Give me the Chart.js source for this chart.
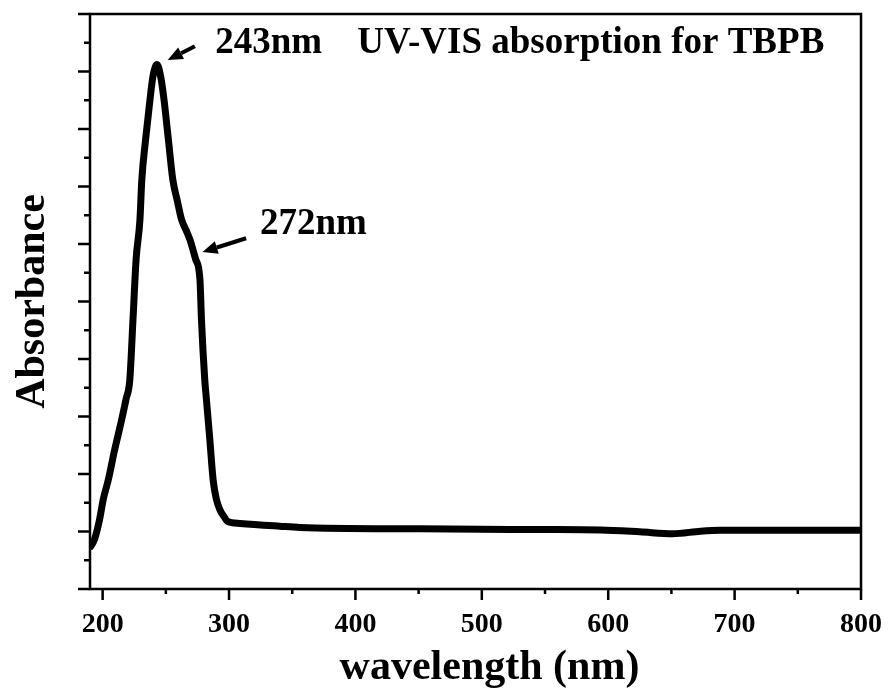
<!DOCTYPE html>
<html>
<head>
<meta charset="utf-8">
<title>UV-VIS absorption for TBPB</title>
<script src="https://cdn.jsdelivr.net/npm/chart.js@4/dist/chart.umd.min.js"></script>
<style>
  html, body { margin: 0; padding: 0; background: #fff; }
  canvas { display: block; }
</style>
</head>
<body>
<canvas id="uvvis-chart" width="888" height="700"></canvas>
<script>
// spectrum (wavelength in nm, absorbance in arbitrary units)
const wavelengths = [190.5, 193.5, 197.5, 200.5, 204.5, 209.5, 215, 218.5, 221.5, 224, 226.5, 229.5, 231, 234, 237.5, 240, 243,
  246, 248.5, 252, 255.5, 259, 262.5, 266, 269, 273.5, 277, 278.2, 280.8, 282.1, 284.8, 287.4, 290, 292.7, 296.6, 298.5,
  308.8, 340, 356, 451, 546, 594, 625, 651, 673, 689, 800];
const absorbance = [-0.13, -0.07, 0.10, 0.28, 0.45, 0.71, 0.97, 1.15, 1.32, 1.84, 2.37, 2.71, 3.06, 3.41, 3.76, 3.97, 4.06,
  3.95, 3.76, 3.41, 3.06, 2.88, 2.71, 2.62, 2.54, 2.37, 2.19, 1.84, 1.32, 1.15, 0.80, 0.45, 0.28, 0.19, 0.12, 0.09,
  0.07, 0.046, 0.035, 0.023, 0.017, 0.013, -0.003, -0.02, 0.003, 0.011, 0.011];

const xTickLabels = [200, 300, 400, 500, 600, 700, 800];
const xRange = [190, 800];
const yRange = [-0.5, 4.5];

// annotation text and arrows, in data units
const notes = [
  { text: '243nm', x: 289, y: 4.24 },
  { text: 'UV-VIS absorption for TBPB', x: 401.5, y: 4.24 },
  { text: '272nm', x: 324.5, y: 2.67 }
];
const arrows = [
  { from: [273, 4.22], to: [251.5, 4.10] },
  { from: [313.5, 2.55], to: [279, 2.43] }
];

const serif = "'Liberation Serif', 'Times New Roman', serif";

const framePlugin = {
  id: 'frame',
  afterDraw(chart) {
    const { ctx, chartArea: a, scales: { x, y } } = chart;
    ctx.save();
    ctx.strokeStyle = '#000';
    ctx.lineWidth = 2.5;
    ctx.strokeRect(a.left, a.top, a.right - a.left, a.bottom - a.top);

    // x ticks, major every 100 and minor in between
    ctx.beginPath();
    for (let i = 0; i < xTickLabels.length; i++) {
      const v = xTickLabels[i];
      const px = x.getPixelForValue(v);
      ctx.moveTo(px, a.bottom);
      ctx.lineTo(px, a.bottom + 11);
      if (i < xTickLabels.length - 1) {
        const m = x.getPixelForValue((v + xTickLabels[i + 1]) / 2);
        ctx.moveTo(m, a.bottom);
        ctx.lineTo(m, a.bottom + 5);
      }
    }
    // y ticks, major every 0.5, minor every 0.25
    for (let v = yRange[0]; v <= yRange[1] + 1e-9; v += 0.25) {
      const py = y.getPixelForValue(v);
      const major = Math.abs(v * 2 - Math.round(v * 2)) < 1e-6;
      ctx.moveTo(a.left, py);
      ctx.lineTo(a.left - (major ? 12 : 6), py);
    }
    ctx.stroke();

    ctx.fillStyle = '#000';
    // x axis title, sits a little right of the plot centre in the original
    ctx.font = 'bold 42px ' + serif;
    ctx.textAlign = 'center';
    ctx.textBaseline = 'middle';
    ctx.fillText('wavelength (nm)', (a.left + a.right) / 2 + 14, 668);

    // notes
    ctx.font = 'bold 37px ' + serif;
    ctx.textAlign = 'left';
    notes.forEach(n => ctx.fillText(n.text, x.getPixelForValue(n.x), y.getPixelForValue(n.y)));

    // arrows
    arrows.forEach(ar => {
      const x0 = x.getPixelForValue(ar.from[0]), y0 = y.getPixelForValue(ar.from[1]);
      const x1 = x.getPixelForValue(ar.to[0]), y1 = y.getPixelForValue(ar.to[1]);
      const ang = Math.atan2(y1 - y0, x1 - x0);
      const head = 15, half = 6.5;
      const bx = x1 - head * Math.cos(ang), by = y1 - head * Math.sin(ang);
      ctx.lineWidth = 4;
      ctx.beginPath();
      ctx.moveTo(x0, y0);
      ctx.lineTo(bx, by);
      ctx.stroke();
      ctx.beginPath();
      ctx.moveTo(x1, y1);
      ctx.lineTo(bx + half * Math.sin(ang), by - half * Math.cos(ang));
      ctx.lineTo(bx - half * Math.sin(ang), by + half * Math.cos(ang));
      ctx.closePath();
      ctx.fill();
    });
    ctx.restore();
  }
};

const ctx = document.getElementById('uvvis-chart').getContext('2d');
new Chart(ctx, {
  type: 'line',
  data: {
    datasets: [{
      data: wavelengths.map((w, i) => ({ x: w, y: absorbance[i] })),
      borderColor: '#000',
      borderWidth: 7,
      pointRadius: 0,
      fill: false,
      cubicInterpolationMode: 'monotone',
      borderJoinStyle: 'round',
      borderCapStyle: 'round'
    }]
  },
  options: {
    responsive: false,
    animation: false,
    layout: { padding: { top: 14, right: 27, left: 0, bottom: 0 } },
    plugins: { legend: { display: false }, tooltip: { enabled: false } },
    scales: {
      x: {
        type: 'linear',
        min: xRange[0],
        max: xRange[1],
        grid: { display: false },
        border: { display: false },
        afterBuildTicks: s => { s.ticks = xTickLabels.map(v => ({ value: v })); },
        afterFit: s => { s.height = 111; s.paddingLeft = 0; s.paddingRight = 0; },
        ticks: {
          autoSkip: false,
          maxRotation: 0,
          padding: 11,
          color: '#000',
          font: { family: serif, size: 28, weight: 'bold' }
        },
        title: { display: false }
      },
      y: {
        min: yRange[0],
        max: yRange[1],
        grid: { display: false },
        border: { display: false },
        ticks: { display: false },
        afterFit: s => { s.width = 90; },
        title: {
          display: true,
          text: 'Absorbance',
          color: '#000',
          font: { family: serif, size: 42, weight: 'bold' },
          padding: { top: 8, bottom: 0 }
        }
      }
    }
  },
  plugins: [framePlugin]
});
</script>
</body>
</html>
